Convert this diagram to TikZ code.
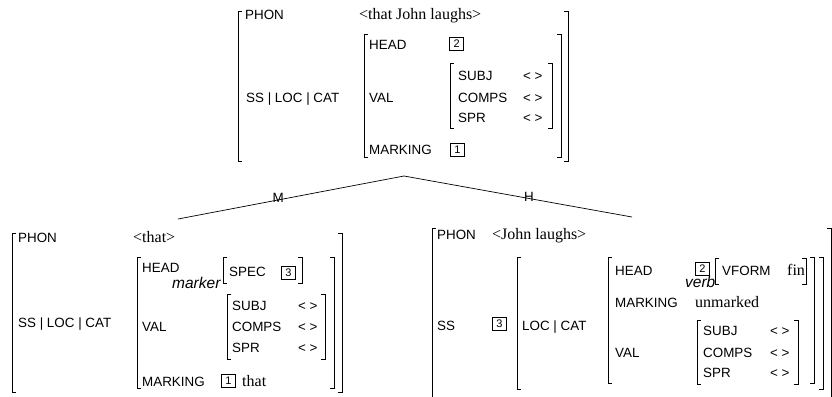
\documentclass[tikz,border=0pt]{standalone}
\usepackage{fontspec}
\setmainfont{Liberation Serif}
\setsansfont{Liberation Sans}
% square brackets of an attribute-value matrix: x, top, bottom
\newcommand\avmL[3]{\draw[brk] (#1+4,#2) -- (#1,#2) -- (#1,#3) -- (#1+4,#3);}
\newcommand\avmR[3]{\draw[brk] (#1-4,#2) -- (#1,#2) -- (#1,#3) -- (#1-4,#3);}
\begin{document}
\begin{tikzpicture}[x=1pt,y=-1pt,
  feat/.style={font=\fontsize{13.4}{15}\selectfont\sffamily, anchor=base west, inner sep=0},
  val/.style={font=\fontsize{16}{18}\selectfont\rmfamily, anchor=base west, inner sep=0},
  typ/.style={font=\fontsize{15.5}{17}\selectfont\sffamily\itshape, anchor=base west, inner sep=0},
  tag/.style={draw, line width=0.7pt, minimum width=14, minimum height=13, inner sep=0,
    font=\fontsize{11}{12}\selectfont\sffamily},
  brk/.style={line width=0.8pt},
  arc/.style={line width=0.7pt},
  lab/.style={font=\fontsize{13.4}{15}\selectfont\sffamily, inner sep=0, yshift=2pt}]
\useasboundingbox (0,0) rectangle (832,396);

% ---------- mother: that John laughs ----------
\avmL{238}{11}{161} \avmR{568}{11}{161}
\node[feat] (tphon) at (245,20) {PHON};
\node[val]  (tphonv) at (359,20) {<that John laughs>};
\node[feat] (tpath) at (246,102) {SS | LOC | CAT};
\avmL{364}{34}{157} \avmR{561}{34}{157}
\node[feat] (thead) at (369,50) {HEAD};
\node[tag]  (ttag2) at (456.8,43.5) {2};
\node[feat] (tval) at (369,102) {VAL};
\avmL{450}{63}{128} \avmR{552}{63}{128}
\node[feat] (tsubj) at (458,80) {SUBJ};
\node[feat] (tsubjv) at (523,80) {< >};
\node[feat] (tcomps) at (458,102) {COMPS};
\node[feat] (tcompsv) at (523,102) {< >};
\node[feat] (tspr) at (458,122) {SPR};
\node[feat] (tsprv) at (523,122) {< >};
\node[feat] (tmark) at (369,154) {MARKING};
\node[tag]  (ttag1) at (457.5,150) {1};

% ---------- branches ----------
\coordinate (root) at (404,176);
\coordinate (mdtr) at (178,219);
\coordinate (hdtr) at (632,217);
\draw[arc] (root) -- node[lab, pos=0.557] (mlab) {M} (mdtr);
\draw[arc] (root) -- node[lab, pos=0.548] (hlab) {H} (hdtr);

% ---------- marker daughter: that ----------
\avmL{12}{233}{392} \avmR{342}{233}{392}
\node[feat] (mphon) at (18,242) {PHON};
\node[val]  (mphonv) at (133,242) {<that>};
\node[feat] (mpath) at (18,327) {SS | LOC | CAT};
\avmL{137}{257}{388} \avmR{334}{257}{388}
\node[feat] (mhead) at (142,272) {HEAD};
\node[typ]  (mtype) at (172,288) {marker};
\avmL{223}{257}{283} \avmR{302}{257}{283}
\node[feat] (mspec) at (229,276) {SPEC};
\node[tag]  (mtag3) at (288.5,272.5) {3};
\node[feat] (mval) at (142,331) {VAL};
\avmL{227}{294}{359} \avmR{325}{294}{359}
\node[feat] (msubj) at (232,310) {SUBJ};
\node[feat] (msubjv) at (298,310) {< >};
\node[feat] (mcomps) at (232,331) {COMPS};
\node[feat] (mcompsv) at (298,331) {< >};
\node[feat] (mspr) at (232,352) {SPR};
\node[feat] (msprv) at (298,352) {< >};
\node[feat] (mmark) at (142,386) {MARKING};
\node[tag]  (mtag1) at (228.5,381) {1};
\node[val]  (mmarkv) at (242,386) {that};

% ---------- head daughter: John laughs ----------
\draw[brk] (436,228) -- (432,228) -- (432,400);
\draw[brk] (827,228) -- (831,228) -- (831,400);
\node[feat] (hphon) at (437,239) {PHON};
\node[val]  (hphonv) at (492,239) {<John laughs>};
\node[feat] (hss) at (437,330) {SS};
\node[tag]  (htag3) at (499.5,323.5) {3};
\avmL{517}{257}{389} \avmR{823}{257}{389}
\node[feat] (hpath) at (522,330) {LOC | CAT};
\avmL{608}{257}{383} \avmR{814}{257}{383}
\node[feat] (hhead) at (615,275) {HEAD};
\node[tag]  (htag2) at (702.5,269) {2};
\node[typ]  (htype) at (685,287) {verb};
\avmL{715}{258}{284} \avmR{806}{258}{284}
\node[feat] (hvform) at (722,275) {VFORM};
\node[val]  (hvformv) at (787,275) {fin};
\node[feat] (hmark) at (615,307) {MARKING};
\node[val]  (hmarkv) at (695,307) {unmarked};
\node[feat] (hval) at (615,357) {VAL};
\avmL{697}{320}{384} \avmR{798}{320}{384}
\node[feat] (hsubj) at (703,335) {SUBJ};
\node[feat] (hsubjv) at (770,335) {< >};
\node[feat] (hcomps) at (703,357) {COMPS};
\node[feat] (hcompsv) at (770,357) {< >};
\node[feat] (hspr) at (703,377) {SPR};
\node[feat] (hsprv) at (770,377) {< >};
\end{tikzpicture}
\end{document}
